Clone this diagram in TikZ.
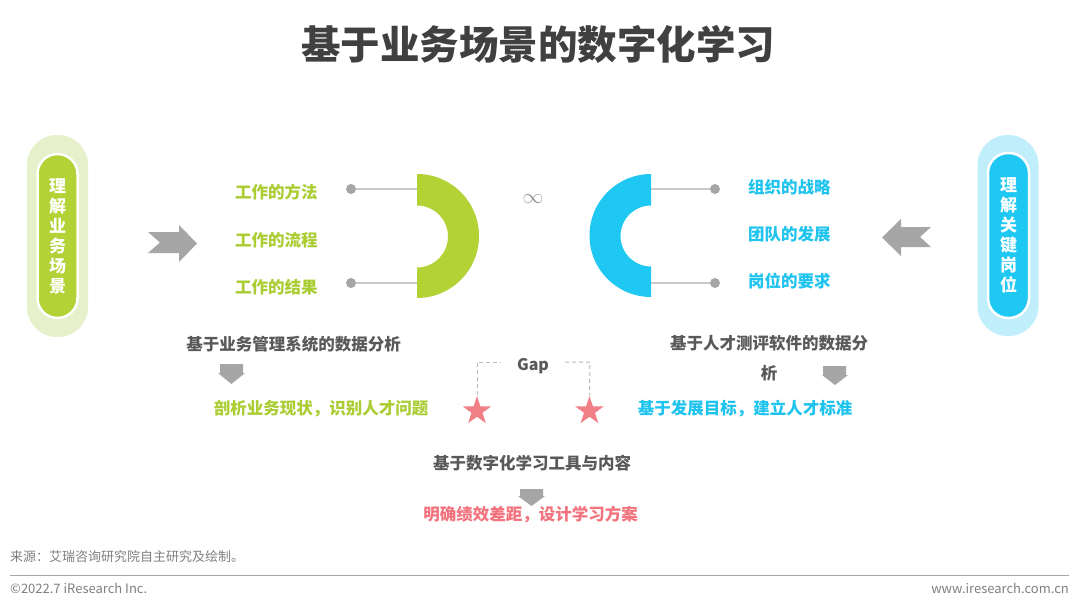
\documentclass[tikz,border=0pt]{standalone}
\usepackage{fontspec}
\setmainfont{Noto Sans CJK SC}
\usetikzlibrary{shapes.geometric}
\definecolor{cgreen}{HTML}{B2D235}
\definecolor{cgreentxt}{HTML}{A9CD32}
\definecolor{clgreen}{HTML}{E6F0CA}
\definecolor{cblue}{HTML}{1FC8F2}
\definecolor{cbluetxt}{HTML}{1EC3EE}
\definecolor{clblue}{HTML}{C0EEFA}
\definecolor{cpink}{HTML}{F07F88}
\definecolor{cpinktxt}{HTML}{F2737E}
\definecolor{cdark}{HTML}{595959}
\definecolor{ctitle}{HTML}{404040}
\definecolor{carrow}{HTML}{A6A6A6}
\definecolor{cline}{HTML}{C8C8C8}
\definecolor{cfoot}{HTML}{808080}
\begin{document}
\begin{tikzpicture}[x=1pt,y=-1pt,
  lbl/.style={inner sep=0pt,font=\bfseries\fontsize{16.5}{20}\selectfont},
  pillout/.style={rounded corners=30pt,inner sep=0pt},
  pillin/.style={rounded corners=20pt,draw=white,line width=2.5pt,inner sep=0pt,text=white,align=center,font=\bfseries\fontsize{17}{20}\selectfont},
  dotc/.style={circle,fill=carrow,minimum size=10pt,inner sep=0pt},
  conn/.style={draw=cline,line width=1.3pt},
  starb/.style={star,star points=5,star point ratio=2.6,fill=cpink,minimum size=30pt,inner sep=0pt},
  gapl/.style={draw=lightgray!90!gray,dashed,dash pattern=on 4pt off 3pt,line width=1pt},
  foot/.style={inner sep=0pt,text=cfoot,font=\fontsize{13}{15}\selectfont}]
\useasboundingbox (0,0) rectangle (1080,610);
\fill[white] (0,0) rectangle (1080,610);

% title
\node[inner sep=0pt,text=ctitle,font=\bfseries\fontsize{39.5}{44}\selectfont] (title) at (538,44) {基于业务场景的数字化学习};

% left pill
\node[pillout,fill=clgreen,minimum width=61pt,minimum height=202pt] (lpo) at (57.5,236) {};
\node[pillin,fill=cgreen,minimum width=40pt,minimum height=164pt] (lpi) at (57.5,236) {理\\解\\业\\务\\场\\景};

% right pill
\node[pillout,fill=clblue,minimum width=61pt,minimum height=201pt] (rpo) at (1008,235.5) {};
\node[pillin,fill=cblue,minimum width=41pt,minimum height=165pt] (rpi) at (1008.5,235.5) {理\\解\\关\\键\\岗\\位};

% block arrows
\fill[carrow] (148,232) -- (179,232) -- (179,225) -- (197,243.5) -- (179,262) -- (179,253) -- (148,253) -- (160,242.5) -- cycle;
\fill[carrow] (931,227) -- (901,227) -- (901,219) -- (882,237.5) -- (901,256) -- (901,247) -- (931,247) -- (920,237) -- cycle;

% green half ring
\fill[cgreen] (417,174) arc[start angle=-90,end angle=90,radius=62] -- (417,267.5) arc[start angle=90,end angle=-90,radius=31] -- cycle;
% blue half ring
\fill[cblue] (651,174) arc[start angle=-90,end angle=-270,radius=61.5] -- (651,266.5) arc[start angle=90,end angle=270,radius=30.5] -- cycle;

% connectors and dots left
\coordinate (lt) at (417,189);
\coordinate (lb) at (417,283);
\node[dotc] (ld1) at (351,189) {};
\node[dotc] (ld2) at (351,283) {};
\draw[conn] (ld1) -- (lt);
\draw[conn] (ld2) -- (lb);
% right
\coordinate (rt) at (651,189);
\coordinate (rb) at (651,283);
\node[dotc] (rd1) at (715,189) {};
\node[dotc] (rd2) at (715,283) {};
\draw[conn] (rt) -- (rd1);
\draw[conn] (rb) -- (rd2);

% green labels
\node[lbl,text=cgreentxt,anchor=west] (g1) at (235,192.5) {工作的方法};
\node[lbl,text=cgreentxt,anchor=west] (g2) at (235,240) {工作的流程};
\node[lbl,text=cgreentxt,anchor=west] (g3) at (235,287.5) {工作的结果};
% blue labels
\node[lbl,text=cbluetxt,anchor=west] (b1) at (748,187) {组织的战略};
\node[lbl,text=cbluetxt,anchor=west] (b2) at (748,234) {团队的发展};
\node[lbl,text=cbluetxt,anchor=west] (b3) at (748,281) {岗位的要求};

% infinity
\node[inner sep=0pt,text=gray!80,font=\fontsize{21}{21}\selectfont] (inf) at (533,199) {$\infty$};

% left analysis
\node[lbl,text=cdark] (la) at (293.5,344) {基于业务管理系统的数据分析};
\fill[carrow] (220,364) -- (243,364) -- (243,373) -- (245,373) -- (231.5,384) -- (218,373) -- (220,373) -- cycle;
\node[lbl,text=cgreentxt] (lr) at (321,408.5) {剖析业务现状，识别人才问题};

% right analysis
\node[lbl,text=cdark,align=center,font=\bfseries\fontsize{16.5}{30}\selectfont] (ra) at (769,358) {基于人才测评软件的数据分\\析};
\fill[carrow] (823,366) -- (846,366) -- (846,375) -- (848,375) -- (835,385) -- (822,375) -- (823,375) -- cycle;
\node[lbl,text=cbluetxt] (rr) at (745,408.5) {基于发展目标，建立人才标准};

% gap
\node[starb] (s1) at (477,411) {};
\node[starb] (s2) at (589.5,411) {};
\node[inner sep=0pt,text=cdark,font=\bfseries\fontsize{16}{18}\selectfont] (gap) at (533,366) {Gap};
\coordinate (gl1) at (477,362);
\coordinate (gl2) at (501,362);
\coordinate (gr1) at (565,362);
\coordinate (gr2) at (590,362);
\draw[gapl] (s1.north) -- (gl1) -- (gl2);
\draw[gapl] (gr1) -- (gr2) -- (s2.north);

% bottom
\node[lbl,text=cdark] (ba) at (532,463) {基于数字化学习工具与内容};
\fill[carrow] (520,489) -- (543,489) -- (543,496) -- (545,496) -- (531.5,506) -- (518,496) -- (520,496) -- cycle;
\node[lbl,text=cpinktxt] (br) at (530.5,515) {明确绩效差距，设计学习方案};

% footer
\node[foot,anchor=west] (src) at (10,557) {来源：艾瑞咨询研究院自主研究及绘制。};
\coordinate (fl1) at (10,575.5);
\coordinate (fl2) at (1069,575.5);
\draw[draw=gray!70,line width=1pt] (fl1) -- (fl2);
\node[foot,anchor=west] (copy) at (10,588) {©2022.7 iResearch Inc.};
\node[foot,anchor=east] (web) at (1069,588) {www.iresearch.com.cn};
\end{tikzpicture}
\end{document}
